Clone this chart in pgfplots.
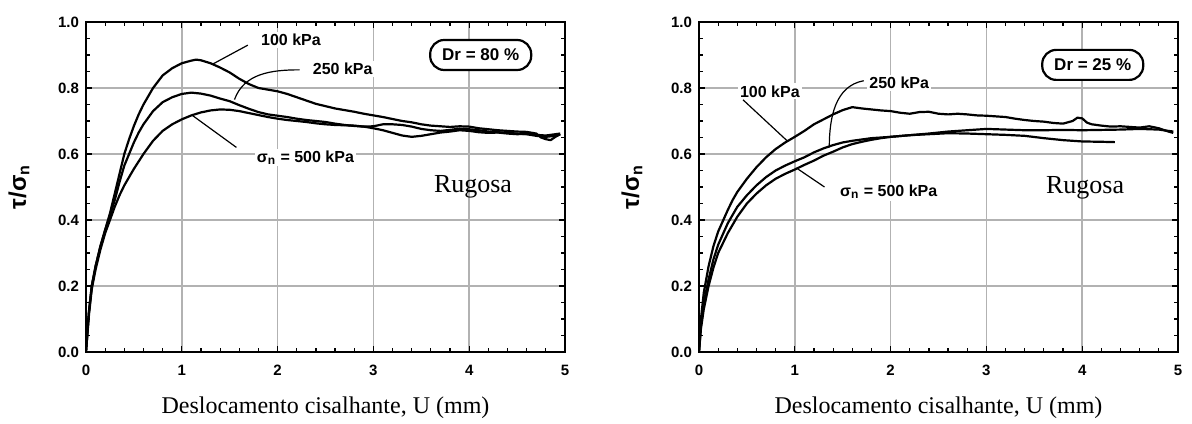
\documentclass[border=0pt]{standalone}
\usepackage{fontspec}
\setmainfont{Liberation Serif}
\newfontfamily\arialf{Liberation Sans}
\usepackage{pgfplots}
\pgfplotsset{compat=1.18}
\usetikzlibrary{calc}

\pgfplotsset{
  shearax/.style={
    scale only axis, width=239.5pt, height=165pt,
    xmin=0, xmax=5, ymin=0, ymax=1,
    xtick={0,1,2,3,4,5}, ytick={0,0.2,0.4,0.6,0.8,1.0},
    minor x tick num=4, minor y tick num=3,
    tick align=inside, major tick length=3pt, minor tick length=2pt,
    grid=major, grid style={line width=0.8pt, gray!60},
    axis line style={line width=1.1pt},
    every tick/.style={line width=0.6pt, black},
    /pgf/number format/assume math mode=true,
    ticklabel style={font=\arialf\bfseries\fontsize{7.5}{8}\selectfont},
    yticklabel style={/pgf/number format/.cd, fixed, fixed zerofill, precision=1},
    xticklabel style={yshift=-3pt},
    xlabel={Deslocamento cisalhante, U (mm)},
    xlabel style={font=\fontsize{12}{14}\selectfont, at={(axis description cs:0.5,-0.17)}, anchor=center},
    ylabel={\arialf\bfseries τ/σ\textsubscript{n}},
    ylabel style={font=\fontsize{12}{14}\selectfont, at={(axis description cs:-0.14,0.5)}, anchor=center, rotate=0},
    cycle list={black,line width=1.1pt,line join=round,mark=none\\},
  },
}
\tikzset{lab/.style={font=\arialf\bfseries\fontsize{8}{9}\selectfont, fill=white, inner sep=1pt}}

\begin{document}
\begin{tikzpicture}
% ---------- Dr = 80 % ----------
\begin{axis}[shearax, name=L]
\addplot coordinates {
(0,0) (0.03,0.12) (0.06,0.20) (0.1,0.26) (0.15,0.32) (0.2,0.37) (0.25,0.42) (0.3,0.48) (0.35,0.54) (0.4,0.60) (0.45,0.645) (0.5,0.685) (0.55,0.72) (0.6,0.75) (0.7,0.80) (0.8,0.838) (0.9,0.86) (1.0,0.875) (1.1,0.883) (1.15,0.886) (1.2,0.884) (1.3,0.875) (1.4,0.862) (1.5,0.847) (1.6,0.828) (1.7,0.812) (1.8,0.80) (1.9,0.795) (2.0,0.79) (2.1,0.782) (2.2,0.772) (2.3,0.762) (2.4,0.752) (2.5,0.745) (2.6,0.738) (2.7,0.733) (2.8,0.728) (2.9,0.722) (3.0,0.717) (3.1,0.712) (3.2,0.706) (3.3,0.70) (3.4,0.696) (3.5,0.69) (3.6,0.686) (3.7,0.684) (3.8,0.682) (3.9,0.684) (4.0,0.683) (4.1,0.678) (4.2,0.675) (4.3,0.672) (4.4,0.670) (4.5,0.668) (4.6,0.667) (4.7,0.662) (4.75,0.65) (4.8,0.645) (4.85,0.642) (4.9,0.652) (4.95,0.66)
};
\addplot coordinates {
(0,0) (0.03,0.12) (0.06,0.20) (0.1,0.26) (0.15,0.32) (0.2,0.37) (0.25,0.415) (0.3,0.46) (0.35,0.515) (0.4,0.565) (0.45,0.60) (0.5,0.635) (0.55,0.665) (0.6,0.69) (0.7,0.73) (0.8,0.757) (0.9,0.772) (1.0,0.782) (1.1,0.786) (1.2,0.783) (1.3,0.777) (1.4,0.768) (1.5,0.76) (1.6,0.748) (1.7,0.737) (1.8,0.727) (1.9,0.72) (2.0,0.716) (2.1,0.712) (2.2,0.707) (2.3,0.703) (2.4,0.70) (2.5,0.697) (2.6,0.692) (2.7,0.688) (2.8,0.685) (2.9,0.683) (3.0,0.684) (3.1,0.69) (3.2,0.69) (3.3,0.688) (3.4,0.683) (3.5,0.676) (3.6,0.672) (3.7,0.67) (3.8,0.673) (3.9,0.677) (4.0,0.675) (4.1,0.672) (4.2,0.668) (4.3,0.666) (4.4,0.664) (4.5,0.662) (4.6,0.66) (4.7,0.655) (4.8,0.652) (4.9,0.655) (4.95,0.66)
};
\addplot coordinates {
(0,0) (0.03,0.11) (0.06,0.19) (0.1,0.25) (0.15,0.31) (0.2,0.36) (0.25,0.40) (0.3,0.44) (0.35,0.475) (0.4,0.505) (0.45,0.53) (0.5,0.555) (0.6,0.60) (0.7,0.64) (0.8,0.67) (0.9,0.69) (1.0,0.705) (1.1,0.717) (1.2,0.726) (1.3,0.732) (1.4,0.735) (1.5,0.734) (1.6,0.73) (1.7,0.724) (1.8,0.718) (1.9,0.712) (2.0,0.707) (2.1,0.703) (2.2,0.70) (2.3,0.697) (2.4,0.693) (2.5,0.69) (2.6,0.688) (2.7,0.687) (2.8,0.686) (2.9,0.683) (3.0,0.678) (3.1,0.672) (3.2,0.664) (3.3,0.656) (3.4,0.652) (3.5,0.655) (3.6,0.66) (3.7,0.665) (3.8,0.668) (3.9,0.672) (4.0,0.67) (4.1,0.666) (4.2,0.664) (4.3,0.665) (4.4,0.662) (4.5,0.66) (4.6,0.661) (4.7,0.658) (4.8,0.656) (4.9,0.66) (4.95,0.662)
};
\node[lab] at (axis cs:2.14,0.945) {100 kPa};
\node[lab] at (axis cs:2.68,0.858) {250 kPa};
\node[lab] at (axis cs:2.29,0.59) {σ\textsubscript{n} = 500 kPa};
\node[font=\fontsize{13}{15}\selectfont] at (axis cs:4.04,0.5) {Rugosa};
\node[draw, line width=1.1pt, rounded corners=7pt, fill=white, inner xsep=6pt, minimum height=15pt, font=\arialf\bfseries\fontsize{8.5}{10}\selectfont] at (axis cs:4.12,0.9) {Dr = 80 \%};
\draw[line width=0.6pt] (axis cs:1.69,0.93) -- (axis cs:1.32,0.872);
\draw[line width=0.6pt] (axis cs:2.23,0.855) to[out=180,in=70] (axis cs:1.55,0.765);
\draw[line width=0.6pt] (axis cs:1.57,0.62) -- (axis cs:1.11,0.717);
\end{axis}

% ---------- Dr = 25 % ----------
\begin{axis}[shearax, name=R, xshift=306.5pt]
\addplot coordinates {
(0,0) (0.02,0.10) (0.05,0.18) (0.1,0.26) (0.15,0.32) (0.2,0.365) (0.3,0.43) (0.35,0.46) (0.4,0.485) (0.5,0.525) (0.6,0.56) (0.7,0.59) (0.8,0.615) (0.9,0.635) (1.0,0.652) (1.1,0.67) (1.2,0.69) (1.3,0.705) (1.4,0.72) (1.5,0.733) (1.6,0.742) (1.7,0.738) (1.8,0.735) (1.9,0.732) (2.0,0.73) (2.1,0.725) (2.2,0.722) (2.3,0.727) (2.4,0.728) (2.5,0.722) (2.6,0.72) (2.7,0.722) (2.8,0.72) (2.9,0.717) (3.0,0.716) (3.1,0.714) (3.2,0.712) (3.3,0.707) (3.4,0.703) (3.5,0.70) (3.6,0.698) (3.7,0.694) (3.8,0.692) (3.9,0.70) (3.95,0.71) (4.0,0.708) (4.05,0.695) (4.1,0.69) (4.2,0.686) (4.3,0.683) (4.4,0.684) (4.5,0.682) (4.6,0.68) (4.7,0.684) (4.8,0.678) (4.9,0.668) (4.95,0.664)
};
\addplot coordinates {
(0,0) (0.02,0.08) (0.05,0.15) (0.1,0.22) (0.15,0.28) (0.2,0.325) (0.3,0.39) (0.4,0.44) (0.5,0.475) (0.6,0.505) (0.7,0.53) (0.8,0.55) (0.9,0.565) (1.0,0.578) (1.1,0.59) (1.2,0.605) (1.3,0.617) (1.4,0.627) (1.5,0.635) (1.6,0.64) (1.7,0.644) (1.8,0.648) (1.9,0.65) (2.0,0.652) (2.2,0.657) (2.4,0.662) (2.6,0.668) (2.8,0.672) (3.0,0.676) (3.2,0.674) (3.4,0.672) (3.6,0.672) (3.8,0.673) (4.0,0.672) (4.2,0.673) (4.4,0.674) (4.6,0.676) (4.8,0.674) (4.95,0.668)
};
\addplot coordinates {
(0,0) (0.02,0.07) (0.05,0.13) (0.1,0.20) (0.15,0.255) (0.2,0.30) (0.3,0.36) (0.4,0.41) (0.5,0.45) (0.6,0.48) (0.7,0.505) (0.8,0.525) (0.9,0.54) (1.0,0.553) (1.1,0.567) (1.2,0.58) (1.3,0.595) (1.4,0.607) (1.5,0.62) (1.6,0.63) (1.7,0.637) (1.8,0.643) (1.9,0.648) (2.0,0.652) (2.2,0.657) (2.4,0.66) (2.6,0.663) (2.8,0.662) (3.0,0.66) (3.2,0.658) (3.4,0.655) (3.6,0.648) (3.8,0.642) (4.0,0.638) (4.2,0.637) (4.34,0.636)
};
\node[lab] at (axis cs:0.74,0.79) {100 kPa};
\node[lab] at (axis cs:2.09,0.815) {250 kPa};
\node[lab] at (axis cs:1.98,0.485) {σ\textsubscript{n} = 500 kPa};
\node[font=\fontsize{13}{15}\selectfont] at (axis cs:4.03,0.497) {Rugosa};
\node[draw, line width=1.1pt, rounded corners=7pt, fill=white, inner xsep=6pt, minimum height=15pt, font=\arialf\bfseries\fontsize{8.5}{10}\selectfont] at (axis cs:4.11,0.87) {Dr = 25 \%};
\draw[line width=0.6pt] (axis cs:0.46,0.764) -- (axis cs:0.92,0.64);
\draw[line width=0.6pt] (axis cs:1.72,0.822) to[out=190,in=90] (axis cs:1.36,0.62);
\draw[line width=0.6pt] (axis cs:1.31,0.5) -- (axis cs:1.03,0.555);
\end{axis}

\pgfresetboundingbox
\path[use as bounding box] ($(L.south west)+(-43pt,-35.5pt)$) rectangle ($(L.south west)+(553pt,176pt)$);
\end{tikzpicture}
\end{document}
